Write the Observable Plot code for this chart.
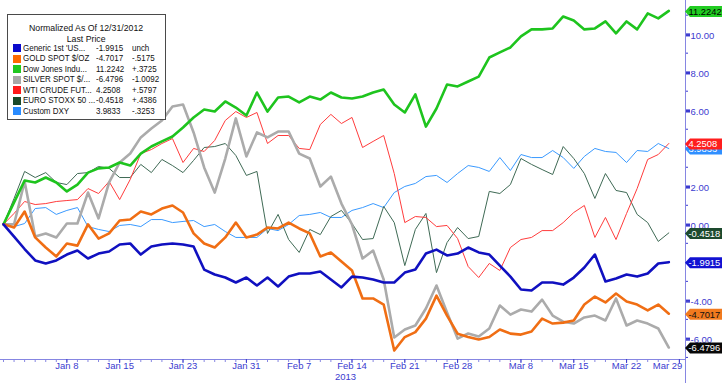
<!DOCTYPE html>
<html><head><meta charset="utf-8">
<script src="https://cdn.jsdelivr.net/npm/d3@7"></script>
<script src="https://cdn.jsdelivr.net/npm/@observablehq/plot@0.6"></script>
<style>
body{margin:0;background:#fff;}
#wrap{position:relative;width:722px;height:383px;overflow:hidden;font-family:"Liberation Sans",Arial,sans-serif;}
#wrap svg{position:absolute;left:0;top:0;}
#legend{position:absolute;left:7px;top:14px;width:157px;height:104px;border:1px solid #4a4a4a;background:#fff;font-size:9.5px;color:#111;}
#legend .t{position:absolute;left:0;width:157px;text-align:center;height:11px;line-height:11px;white-space:nowrap;}
#legend .t span{display:inline-block;transform:scaleX(0.92);transform-origin:50% 50%;}
#legend .row{position:absolute;left:0;width:157px;height:10.5px;line-height:10.5px;white-space:nowrap;}
#legend .sw{position:absolute;left:5px;top:1.5px;width:8px;height:8px;}
#legend .nm,#legend .lp,#legend .ch{position:absolute;top:0;display:inline-block;transform:scaleX(0.84);transform-origin:0 50%;}
#legend .nm{left:15px;}
#legend .lp{left:88px;}
#legend .ch{left:124px;}
</style></head>
<body><div id="wrap"></div>
<script>
// ---------- data ----------
const seriesNames = ["Generic 1st 'US...", "GOLD SPOT $/OZ", "Dow Jones Indu...", "SILVER SPOT $/...", "WTI CRUDE FUT...", "EURO STOXX 50 ...", "Custom DXY"];
const lastPrice = ["-1.9915", "-4.7017", "11.2242", "-6.4796", "4.2508", "-0.4518", "3.9833"];
const netChange = ["unch", "-.5175", "+.3725", "-1.0092", "+.5797", "+.4386", "-.3253"];
const legendTitle = ["Normalized As Of 12/31/2012", "Last Price"];

const generic1st = [0, -0.65, -1.3, -1.9, -2.06, -1.9, -1.59, -1.38, -1.8, -1.54,
 -1.43, -1.06, -1.01, -1.59, -1.17, -1.06, -1.01, -1.06, -1.17, -2.38,
 -2.64, -2.8, -3.06, -2.8, -3.22, -2.8, -3.27, -2.75, -2.59, -2.59,
 -2.48, -2.9, -3.32, -2.75, -2.8, -2.9, -3.06, -3.06, -2.54, -2.38,
 -1.54, -1.33, -1.64, -1.54, -1.22, -1.48, -1.59, -2.17, -2.75, -3.43,
 -3.48, -3.06, -3.06, -3.17, -2.8, -2.27, -1.59, -3.01, -2.85, -2.64,
 -2.75, -2.59, -2.06, -1.9915];
const goldSpot = [0, -0.17, 0.67, -0.69, -1.22, -1.69, -1.01, -1.12, 0, -0.75,
 -0.48, 0.20, 0.25, 0.67, 0.52, 0.83, 0.99, 0.62, -0.48, -1.01,
 -1.22, -0.69, 0.09, -0.69, -0.54, -0.17, -0.22, 0.09, -0.22, -0.48,
 -1.69, -1.48, -1.96, -2.43, -3.90, -3.90, -4.22, -6.64, -5.93, -5.67,
 -4.96, -3.75, -4.80, -5.75, -5.93, -6.06, -5.93, -5.53, -5.75, -5.80,
 -5.64, -4.96, -5.22, -5.17, -5.06, -4.22, -3.80, -4.11, -3.64, -4.06,
 -4.22, -4.53, -4.22, -4.7017];
const dowJones = [0, 1.15, 2.30, 2.20, 2.46, 2.20, 1.73, 2.09, 2.72, 2.94,
 2.99, 3.25, 3.09, 3.72, 4.09, 4.36, 4.62, 5.09, 5.62, 6.04,
 5.93, 6.46, 6.14, 5.72, 6.93, 5.93, 6.67, 6.72, 6.41, 6.72,
 6.56, 6.93, 6.67, 6.62, 6.72, 6.93, 7.09, 6.30, 5.88, 6.83,
 5.14, 6.09, 7.35, 7.25, 7.51, 7.77, 8.77, 9.04, 9.30, 9.88,
 10.25, 10.25, 10.30, 10.93, 10.72, 10.25, 10.30, 10.67, 10.04, 10.67,
 10.25, 11.09, 10.83, 11.2242];
const silverSpot = [0, 0, 2.25, -0.64, -0.48, -0.69, 0.04, 0.04, 1.67, 0.31,
 2.20, 3.25, 3.72, 4.57, 5.04, 5.46, 6.20, 6.30, 4.83, 2.99,
 1.67, 3.46, 5.57, 3.57, 4.83, 4.57, 4.88, 4.88, 3.72, 3.46,
 1.99, 2.51, 1.09, -0.01, -1.80, -1.38, -2.90, -5.95, -5.53, -5.32,
 -4.43, -3.22, -4.64, -6.01, -5.74, -5.90, -5.48, -4.27, -4.75, -4.48,
 -4.59, -3.96, -4.80, -5.12, -5.22, -4.90, -4.80, -5.06, -3.90, -5.32,
 -5.06, -5.22, -5.48, -6.4796];
const wtiCrude = [0, 0.57, 1.20, 1.04, 1.09, 1.20, 1.25, 1.30, 1.88, 1.62,
 2.25, 1.30, 2.36, 3.72, 3.93, 4.25, 4.51, 3.25, 3.99, 3.83,
 4.41, 5.46, 5.93, 5.62, 5.88, 4.25, 4.67, 4.67, 3.99, 3.93,
 5.25, 5.78, 5.30, 5.62, 4.04, 4.36, 4.67, 2.67, 0.09, 0.41,
 0.36, -0.12, -0.06, -0.75, -2.22, -2.80, -2.06, -2.43, -1.22, -0.80,
 -0.69, -0.33, -0.33, 0.09, 0.62, 0.99, -0.69, 0.36, -0.80, 0.57,
 1.88, 3.41, 3.67, 4.2508];
const euroStoxx = [0, 1.36, 2.78, 2.46, 2.72, 2.20, 2.09, 2.67, 2.72, 3.04,
 2.94, 2.46, 2.46, 3.15, 2.72, 3.41, 3.09, 2.72, 3.36, 4.04,
 4.09, 4.25, 3.62, 2.57, 2.78, -0.48, 0.52, -0.80, -1.48, -0.27,
 -0.54, 0.41, 0.73, 0.04, -0.80, -0.75, 0.94, 0.09, -2.17, -0.27,
 0.57, -2.54, -0.96, -0.17, -0.75, -0.64, 1.73, 1.62, 2.09, 3.46,
 3.15, 2.88, 2.62, 4.09, 3.46, 2.67, 1.36, 2.67, 1.78, 1.67,
 0.52, 0.09, -0.90, -0.4518];
const customDXY = [0, -0.12, 0.04, 0.83, 0.88, 0.52, 0.73, 0.88, -0.12, -0.27,
 -0.38, -0.06, -0.01, -0.12, 0.25, 0.25, 0.09, 0.15, 0.20, -0.12,
 -0.01, -0.38, -0.69, -0.69, -0.69, -0.22, -0.33, -0.01, 0.46, 0.52,
 0.62, 0.36, 0.36, 0.73, 0.88, 1.09, 0.88, 1.67, 1.99, 2.15,
 2.51, 2.57, 2.20, 2.67, 3.09, 2.99, 2.78, 3.51, 2.83, 3.67,
 3.51, 3.51, 3.88, 3.51, 2.94, 3.57, 3.99, 3.83, 3.78, 3.25,
 3.88, 3.83, 4.25, 3.9833];

const xTickDates = ["2013-01-08","2013-01-15","2013-01-23","2013-01-31","2013-02-07","2013-02-14","2013-02-21","2013-02-28","2013-03-08","2013-03-15","2013-03-22","2013-03-29"];
const xTickLabels = ["Jan 8","Jan 15","Jan 23","Jan 31","Feb 7","Feb 14","Feb 21","Feb 28","Mar 8","Mar 15","Mar 22","Mar 29"];
const yearLabel = "2013";
const yearAt = "2013-02-14";
const yMajor = [-6, -4, -2, 0, 2, 4, 6, 8, 10];
const yLabeled = [-6, -4, 0, 2, 6, 8, 10]; // -2.00 and 4.00 sit under the value tags
const yMinor = [-7, -5, -3, -1, 1, 3, 5, 7, 9, 11];

// ---------- styles ----------
const seriesValues = [generic1st, goldSpot, dowJones, silverSpot, wtiCrude, euroStoxx, customDXY];
const styles = [
  {line:"#1010c0", swatch:"#0a0acc", tag:"#1212d2", tagText:"#ffffff", width:2.6},
  {line:"#f06e14", swatch:"#ff6a00", tag:"#f27a1e", tagText:"#111111", width:2.6},
  {line:"#1ec41e", swatch:"#20c820", tag:"#22cc22", tagText:"#000000", width:2.6},
  {line:"#ababab", swatch:"#a8a8a8", tag:"#080808", tagText:"#ffffff", width:2.6},
  {line:"#ff3c3c", swatch:"#ff1a1a", tag:"#ff1e1e", tagText:"#ffffff", width:1},
  {line:"#3f6a55", swatch:"#1a4a2a", tag:"#1d4a2e", tagText:"#ffffff", width:1},
  {line:"#3a9aff", swatch:"#2a8cff", tag:"#2f8fff", tagText:"#ffffff", width:1}
];
const drawOrder = [6, 5, 4, 3, 2, 1, 0];
const tagOrder = [2, 6, 4, 5, 0, 1, 3];
const axisCol = "#8686e2", textCol = "#3b3bcf";

// weekdays Dec 31 2012 .. Mar 29 2013 (chart x positions are trading-day slots)
const days = d3.utcDay.range(new Date(Date.UTC(2012, 11, 31)), new Date(Date.UTC(2013, 2, 30)))
  .filter(d => d.getUTCDay() !== 0 && d.getUTCDay() !== 6);
const iso = d3.utcFormat("%Y-%m-%d");
const dayIndex = new Map(days.map((d, i) => [iso(d), i]));
const allIdx = days.map((d, i) => i);
const tickIdx = xTickDates.map(s => dayIndex.get(s));
const lastIdx = tickIdx.length - 1;

const W = 722, H = 383;
const xDom = [-0.284, 64.58], yDom = [-7.11, 11.77];

const lineMarks = drawOrder.map(k => Plot.line(seriesValues[k].map((v, i) => ({i, v})), {
  x: "i", y: "v", stroke: styles[k].line, strokeWidth: styles[k].width, strokeLinejoin: "round"
}));

const tagMark = (index, scales) => {
  const g = d3.create("svg:g").attr("text-anchor", "start");
  const x0 = scales.x(xDom[1]);
  for (const k of tagOrder) {
    const vals = seriesValues[k];
    const yc = scales.y(vals[vals.length - 1]) + 1;
    g.append("path")
      .attr("d", `M${x0},${yc} L${x0 + 5},${yc - 5.5} L${W},${yc - 5.5} L${W},${yc + 5.5} L${x0 + 5},${yc + 5.5} Z`)
      .attr("fill", styles[k].tag);
    g.append("text").attr("x", x0 + 3.5).attr("y", yc).attr("dy", "0.36em")
      .attr("text-anchor", "start")
      .attr("fill", styles[k].tagText).attr("font-size", 9.4)
      .text(lastPrice[k]);
  }
  return g.node();
};

const chart = Plot.plot({
  width: W, height: H,
  marginLeft: 0, marginRight: 37, marginTop: 0, marginBottom: 24,
  style: {fontFamily: "Liberation Sans, Arial, sans-serif", background: "transparent", overflow: "visible"},
  x: {type: "linear", domain: xDom, axis: null, label: null},
  y: {type: "linear", domain: yDom, axis: null, label: null},
  marks: [
    ...lineMarks,
    Plot.ruleY([yDom[0]], {stroke: axisCol, strokeWidth: 1}),
    Plot.ruleX([xDom[1]], {stroke: axisCol, strokeWidth: 1, insetBottom: -24}),
    Plot.axisX(allIdx, {anchor: "bottom", label: null, tickSize: 3, tickFormat: () => "", stroke: axisCol}),
    Plot.axisX(tickIdx, {anchor: "bottom", label: null, tickSize: 4, tickFormat: () => "", stroke: textCol}),
    Plot.text(tickIdx.slice(0, lastIdx), {x: d => d, frameAnchor: "bottom", lineAnchor: "top", dy: 3,
      text: (d, i) => xTickLabels[i], fill: textCol, fontSize: 9.5}),
    Plot.text([tickIdx[lastIdx]], {x: d => d, frameAnchor: "bottom", lineAnchor: "top", dy: 3, dx: 3,
      textAnchor: "end", text: () => xTickLabels[lastIdx], fill: textCol, fontSize: 9.5}),
    Plot.text([dayIndex.get(yearAt)], {x: d => d, frameAnchor: "bottom", lineAnchor: "top", dy: 14, dx: -17,
      textAnchor: "start", text: () => yearLabel, fill: textCol, fontSize: 9.5}),
    Plot.axisY(yMinor, {anchor: "right", label: null, tickSize: 2, tickFormat: () => "", stroke: textCol}),
    Plot.axisY(yMajor, {anchor: "right", label: null, tickSize: 4, strokeWidth: 1.6, tickFormat: () => "", stroke: textCol}),
    Plot.axisY(yLabeled, {anchor: "right", label: null, tickSize: 4, tickPadding: 1, strokeWidth: 1.6,
      tickFormat: d => d.toFixed(2), stroke: textCol, fill: textCol, fontSize: 9.5, dy: 1.5}),
    tagMark
  ]
});

const wrap = document.getElementById("wrap");
wrap.appendChild(chart);

// legend box
const leg = d3.select(wrap).append("div").attr("id", "legend");
leg.append("div").attr("class", "t").style("top", "7px").append("span").text(legendTitle[0]);
leg.append("div").attr("class", "t").style("top", "17.5px").append("span").text(legendTitle[1]);
seriesNames.forEach((name, k) => {
  const r = leg.append("div").attr("class", "row").style("top", (27.5 + 10.5 * k) + "px");
  r.append("div").attr("class", "sw").style("background", styles[k].swatch);
  r.append("span").attr("class", "nm").text(name);
  r.append("span").attr("class", "lp").text(lastPrice[k]);
  r.append("span").attr("class", "ch").text(netChange[k]);
});
</script>
</body></html>
